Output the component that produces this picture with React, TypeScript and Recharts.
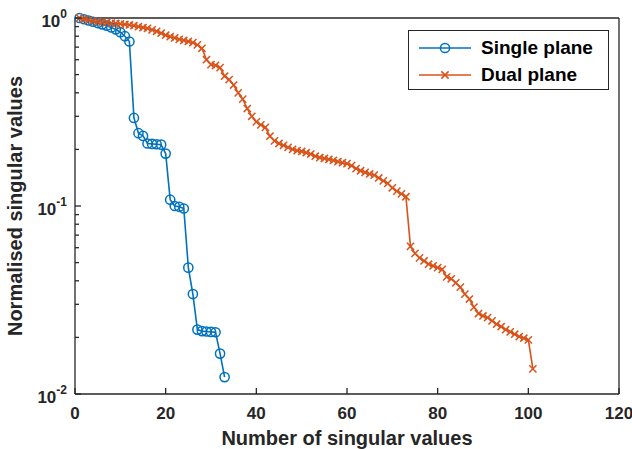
import React from "react";
import { LineChart, Line, XAxis, YAxis, Legend, Label } from "recharts";

// normalised singular values
const singleValues = [
  1.0, 0.985, 0.97, 0.955, 0.94, 0.925, 0.91, 0.89, 0.87, 0.84, 0.8, 0.75,
  0.294, 0.244, 0.236, 0.215, 0.214, 0.213, 0.212, 0.19, 0.108, 0.1, 0.099,
  0.097, 0.047, 0.034, 0.022, 0.0216, 0.0215, 0.0214, 0.0213, 0.0164, 0.0123,
];

const dualValues = [
  1.0, 0.985, 0.975, 0.965, 0.958, 0.952, 0.946, 0.94, 0.935, 0.93,
  0.925, 0.918, 0.91, 0.9, 0.89, 0.88, 0.865, 0.85, 0.83, 0.81,
  0.795, 0.785, 0.77, 0.76, 0.75, 0.74, 0.72, 0.69,
  0.6, 0.565,
  0.56, 0.545, 0.49, 0.47, 0.44, 0.4, 0.37, 0.33, 0.3, 0.28,
  0.27, 0.262, 0.235, 0.222, 0.215, 0.21, 0.205, 0.2, 0.197, 0.195,
  0.192, 0.189, 0.184, 0.181, 0.179, 0.177, 0.175, 0.172, 0.17, 0.168,
  0.164, 0.158, 0.154, 0.151, 0.148, 0.146, 0.141, 0.136, 0.132, 0.125,
  0.12, 0.116, 0.112,
  0.061,
  0.056, 0.053, 0.051, 0.049, 0.048, 0.047,
  0.046, 0.042, 0.041, 0.039, 0.037, 0.034, 0.032, 0.029, 0.0268, 0.026,
  0.0255, 0.0245, 0.0235, 0.0228, 0.022, 0.0214, 0.0208, 0.0202, 0.0198, 0.0194,
  0.0136,
];

const xTicks = [0, 20, 40, 60, 80, 100, 120];
const yMajor = [0.01, 0.1, 1];
const yExponent: Record<string, string> = { "0.01": "-2", "0.1": "-1", "1": "0" };
const yMinor = [
  0.02, 0.03, 0.04, 0.05, 0.06, 0.07, 0.08, 0.09,
  0.2, 0.3, 0.4, 0.5, 0.6, 0.7, 0.8, 0.9,
];
const yTicks = [...yMajor, ...yMinor];

const singleRows = singleValues.map((v, i) => ({ n: i + 1, v }));
const dualRows = dualValues.map((v, i) => ({ n: i + 1, v }));

const AXIS = "#262626";
const BLUE = "#0072BD";
const ORANGE = "#D95319";
const FONT = "'Liberation Sans', Arial, sans-serif";

const isMajor = (v: number) => yMajor.includes(v);

function BottomTick({ x, y, payload }: any) {
  return (
    <g>
      <line x1={x} x2={x} y1={y} y2={y - 6} stroke={AXIS} strokeWidth={1.3} />
      <text x={x} y={y + 25} textAnchor="middle" fontSize={17} fontWeight="bold" fill={AXIS} fontFamily={FONT}>
        {payload.value}
      </text>
    </g>
  );
}

function TopTick({ x, y }: any) {
  return <line x1={x} x2={x} y1={y} y2={y + 6} stroke={AXIS} strokeWidth={1.3} />;
}

function LeftTick({ x, y, payload }: any) {
  const major = isMajor(payload.value);
  return (
    <g>
      <line x1={x} x2={x + (major ? 6 : 4)} y1={y} y2={y} stroke={AXIS} strokeWidth={1.3} />
      {major && (
        <text x={x - 8} y={y + 9} textAnchor="end" fontSize={17} fontWeight="bold" fill={AXIS} fontFamily={FONT}>
          <tspan>10</tspan>
          <tspan dy={-9} fontSize={12}>{yExponent[String(payload.value)]}</tspan>
        </text>
      )}
    </g>
  );
}

function RightTick({ x, y, payload }: any) {
  const major = isMajor(payload.value);
  return <line x1={x} x2={x - (major ? 6 : 4)} y1={y} y2={y} stroke={AXIS} strokeWidth={1.3} />;
}

function CircleDot({ cx, cy, index }: any) {
  return <circle key={index} cx={cx} cy={cy} r={4.6} fill="none" stroke={BLUE} strokeWidth={1.5} />;
}

function CrossDot({ cx, cy, index }: any) {
  const s = 3.6;
  return (
    <path
      key={index}
      d={`M${cx - s},${cy - s}L${cx + s},${cy + s}M${cx - s},${cy + s}L${cx + s},${cy - s}`}
      stroke={ORANGE}
      strokeWidth={1.5}
    />
  );
}

function LegendBox() {
  const row = (color: string, label: string, marker: "o" | "x") => (
    <div style={{ display: "flex", alignItems: "center", height: 27 }}>
      <svg width={56} height={14} style={{ marginRight: 8 }}>
        <line x1={2} x2={54} y1={7} y2={7} stroke={color} strokeWidth={1.6} />
        {marker === "o" ? (
          <circle cx={28} cy={7} r={4.6} fill="none" stroke={color} strokeWidth={1.5} />
        ) : (
          <path d="M24.4,3.4L31.6,10.6M24.4,10.6L31.6,3.4" stroke={color} strokeWidth={1.5} />
        )}
      </svg>
      <span style={{ fontFamily: FONT, fontWeight: "bold", fontSize: 19, color: "#000" }}>{label}</span>
    </div>
  );
  return (
    <div
      style={{
        width: 201,
        height: 60,
        border: `1px solid ${AXIS}`,
        background: "#fff",
        padding: "3px 0 0 8px",
        boxSizing: "border-box",
      }}
    >
      {row(BLUE, "Single plane", "o")}
      {row(ORANGE, "Dual plane", "x")}
    </div>
  );
}

export default function App() {
  return (
    <div style={{ position: "absolute", left: 0, top: 0, background: "#fff" }}>
      <LineChart width={632} height={449} margin={{ top: 0, right: 0, bottom: 0, left: 0 }}>
        <XAxis
          xAxisId="b"
          dataKey="n"
          type="number"
          domain={[0, 120]}
          ticks={xTicks}
          interval={0}
          height={55}
          tickSize={0}
          tickMargin={0}
          tick={<BottomTick />}
          stroke={AXIS}
          strokeWidth={1.3}
        >
          <Label
            content={({ viewBox }: any) => (
              <text
                x={viewBox.x + viewBox.width / 2}
                y={viewBox.y + 51}
                textAnchor="middle"
                fontSize={20}
                fontWeight="bold"
                fill={AXIS}
                fontFamily={FONT}
              >
                Number of singular values
              </text>
            )}
          />
        </XAxis>
        <XAxis
          xAxisId="t"
          orientation="top"
          dataKey="n"
          type="number"
          domain={[0, 120]}
          ticks={xTicks}
          interval={0}
          height={18}
          tickSize={0}
          tickMargin={0}
          tick={<TopTick />}
          stroke={AXIS}
          strokeWidth={1.3}
        />
        <YAxis
          yAxisId="l"
          scale="log"
          domain={[0.01, 1]}
          ticks={yTicks}
          interval={0}
          width={75}
          tickSize={0}
          tickMargin={0}
          tick={<LeftTick />}
          stroke={AXIS}
          strokeWidth={1.3}
        >
          <Label
            content={({ viewBox }: any) => (
              <text
                transform={`translate(${viewBox.x + 22},${viewBox.y + viewBox.height / 2}) rotate(-90)`}
                textAnchor="middle"
                fontSize={20}
                fontWeight="bold"
                fill={AXIS}
                fontFamily={FONT}
              >
                Normalised singular values
              </text>
            )}
          />
        </YAxis>
        <YAxis
          yAxisId="r"
          orientation="right"
          scale="log"
          domain={[0.01, 1]}
          ticks={yTicks}
          interval={0}
          width={13}
          tickSize={0}
          tickMargin={0}
          tick={<RightTick />}
          stroke={AXIS}
          strokeWidth={1.3}
        />
        <Legend
          layout="horizontal"
          verticalAlign="middle"
          align="center"
          content={<LegendBox />}
          wrapperStyle={{ left: 408, top: 30, width: 201, height: 60 }}
        />
        <Line
          xAxisId="b"
          yAxisId="l"
          data={singleRows}
          dataKey="v"
          name="Single plane"
          stroke={BLUE}
          strokeWidth={1.6}
          dot={CircleDot}
          isAnimationActive={false}
        />
        <Line
          xAxisId="b"
          yAxisId="l"
          data={dualRows}
          dataKey="v"
          name="Dual plane"
          stroke={ORANGE}
          strokeWidth={1.6}
          dot={CrossDot}
          isAnimationActive={false}
        />
      </LineChart>
    </div>
  );
}
